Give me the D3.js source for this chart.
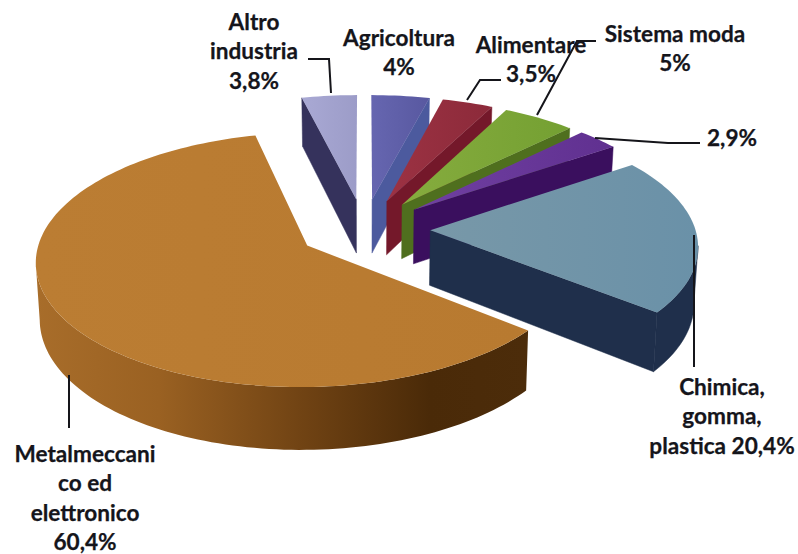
<!DOCTYPE html>
<html>
<head>
<meta charset="utf-8">
<script src="https://cdn.jsdelivr.net/npm/d3@7"></script>
<style>
html,body{margin:0;padding:0;background:#fff;}
svg{display:block;}
text{font-family:Lato,"Open Sans",sans-serif;font-weight:700;font-size:22.6px;fill:#15151b;stroke:#15151b;stroke-width:0.25px;text-anchor:middle;}
</style>
</head>
<body>
<svg id="chart" width="798" height="554"></svg>
<script>
// Sector shares, clockwise from twelve o'clock
const categories = ["Agricoltura","Alimentare","Sistema moda","Altro settore","Chimica, gomma, plastica","Metalmeccanico ed elettronico","Altro industria"];
const shares = [4, 3.5, 5, 2.9, 20.4, 60.4, 3.8];
const topColors = [["#6666b0","#5858a0"],["#9c3243","#8c2a3a"],["#86ac3e","#74a032"],["#7040a2","#603090"],["#7898a8","#6a91a8"],["#bb7d33","#b87a30"],["#a9a9d4","#9c9cc8"]];
const wallColors = ["#4c5a9e","#74182a","#4f6f1e","#3a0f5e","#1f2f4b","#8a5a20","#35325c"];
const labels = [
  {lines:["Agricoltura","4%"], at:[399,46]},
  {lines:["Alimentare","3,5%"], at:[531,53]},
  {lines:["Sistema moda","5%"], at:[675,42]},
  {lines:["2,9%"], at:[732,146]},
  {lines:["Chimica,","gomma,","plastica 20,4%"], at:[722,395]},
  {lines:["Metalmeccani","co ed","elettronico","60,4%"], at:[85,462]},
  {lines:["Altro","industria","3,8%"], at:[254,30]}
];
const leaders = [
  [[308,59],[329,59],[331,93]],
  [[501,80],[480,80],[467,100]],
  [[596,41],[577,41],[537,115]],
  [[595,138],[668,143],[700,143]],
  [[694,235],[694,367]],
  [[69,375],[69,428]]
];

// Projection of the tilted disc: unit coordinates on the plane to screen pixels.
// The underside sits further from the eye, so it narrows a little.
const explode = 0.25, tilt = 0.11, depth = 55, narrowing = 0.012;
const xScale = d3.scaleLinear().domain([-1,1]).range([364-265,364+265]);
const yScale = d3.scaleLinear().domain([-1,1]).range([229-122,229+122]);
const project = (u,v,z=0) => {
  const w = 1/(1-tilt*v);
  return [xScale(u*w*(1-narrowing*z)), yScale(v*w)+z*depth*w];
};

const svg = d3.select("#chart");
const defs = svg.append("defs");
const line = d3.line();
const closed = pts => line(pts)+"Z";

const arcs = d3.pie().sort(null).value(d=>d)(shares);

function gradient(id, stops, x1=0, y1=0, x2=1, y2=0){
  const g = defs.append("linearGradient").attr("id",id)
    .attr("x1",x1).attr("y1",y1).attr("x2",x2).attr("y2",y2);
  stops.forEach(([o,c])=>g.append("stop").attr("offset",o).attr("stop-color",c));
  return `url(#${id})`;
}

const wallFill = gradient("metalWall",[[0,"#a86d2a"],[0.25,"#9a6122"],[0.55,"#6f4213"],[0.8,"#4a2a08"],[1,"#4c2c0a"]]);

// Paint order: rear slices first, the large front slice last
const order = [6,0,1,2,3,4,5];
order.forEach(i=>{
  const a = arcs[i];
  const mid = (a.startAngle+a.endAngle)/2;
  const ox = explode*Math.sin(mid), oy = -explode*Math.cos(mid);
  const n = Math.max(8, Math.round((a.endAngle-a.startAngle)*40));
  const angles = d3.range(n+1).map(k=>a.startAngle+(a.endAngle-a.startAngle)*k/n);
  const rim = angles.map(t=>[ox+Math.sin(t), oy-Math.cos(t)]);
  const apex = [ox,oy];
  const outline = [apex,...rim];
  const g = svg.append("g").attr("class","slice").attr("data-name",categories[i]);

  // Walls facing the viewer: edges running leftward on screen when walked clockwise
  const wall = (from,to,fill)=>g.append("path")
    .attr("d",closed([project(...from),project(...to),project(...to,1),project(...from,1)]))
    .attr("fill",fill).attr("stroke",fill).attr("stroke-width",0.5);
  const wallColor = wallColors[i];
  if(project(...rim[0])[0] < project(...apex)[0]-1) wall(apex,rim[0],wallColor);
  if(project(...apex)[0] < project(...rim[n])[0]-1) wall(rim[n],apex,wallColor);

  let run = [];
  const flush = ()=>{
    if(run.length>1){
      const upper = run.map(p=>project(...p));
      const lower = run.map(p=>project(...p,1)).reverse();
      g.append("path").attr("d",closed([...upper,...lower]))
        .attr("fill", i===5 ? wallFill : wallColor)
        .attr("stroke", i===5 ? "none" : wallColor).attr("stroke-width",0.5);
    }
    run = [];
  };
  rim.forEach((p,k)=>{
    if(k===n) return;
    const leftward = project(...rim[k+1])[0] < project(...p)[0];
    if(leftward){ if(!run.length) run.push(p); run.push(rim[k+1]); }
    else flush();
  });
  flush();

  const id = "top"+i;
  const fill = gradient(id,[[0,topColors[i][0]],[1,topColors[i][1]]]);
  g.append("path").attr("d",closed(outline.map(p=>project(...p)))).attr("fill",fill);
});

svg.append("g").selectAll("g").data(labels).join("g").each(function(d){
  d3.select(this).selectAll("text").data(d.lines).join("text")
    .attr("x",d.at[0]).attr("y",(_,k)=>d.at[1]+k*29.3).text(t=>t);
});

svg.append("g").selectAll("path").data(leaders).join("path")
  .attr("d",d=>line(d)).attr("fill","none").attr("stroke","#15151a").attr("stroke-width",2);
</script>
</body>
</html>
